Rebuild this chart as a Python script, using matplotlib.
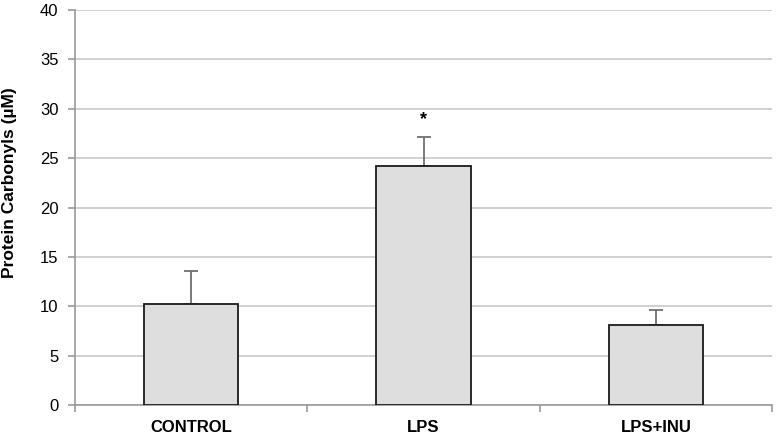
import matplotlib
matplotlib.use("Agg")
import matplotlib.pyplot as plt

categories = ["CONTROL", "LPS", "LPS+INU"]
values = [10.2, 24.25, 8.15]
errors = [3.35, 2.85, 1.45]
sig_labels = ["", "*", ""]
yticks = [0, 5, 10, 15, 20, 25, 30, 35, 40]

plt.rcParams['font.family'] = ['Liberation Sans', 'DejaVu Sans']

fig = plt.figure(figsize=(7.77, 4.38), dpi=100)
ax = fig.add_axes([75/777, 1-405/438, (772-75)/777, (405-10)/438])

x = list(range(len(categories)))
ax.bar(x, values, width=0.405, color="#dedede", edgecolor="#1a1a1a", linewidth=1.3, zorder=3)
ax.errorbar(x, values, yerr=[[0]*len(errors), errors], fmt="none", ecolor="#707070",
            elinewidth=1.3, capsize=5, capthick=1.3, zorder=2)
for xi, v, e, s in zip(x, values, errors, sig_labels):
    if s:
        ax.text(xi, v + e + 0.9, s, ha="center", va="bottom", fontsize=13, fontweight="bold")

ax.set_xlim(-0.5, len(categories) - 0.5)
ax.set_ylim(0, 40)
ax.set_yticks(yticks)
ax.set_yticklabels([str(t) for t in yticks], fontsize=12)
ax.yaxis.grid(True, color="#c8c8c8", linewidth=1.2, zorder=0)
ax.set_axisbelow(True)

ax.set_xticks([i + 0.5 for i in range(-1, len(categories))], minor=False)
ax.set_xticklabels([])
ax.set_xticks(x, minor=True)
ax.set_xticklabels(categories, minor=True, fontsize=12, fontweight="bold")
ax.tick_params(axis="x", which="minor", length=0, pad=11)
ax.tick_params(axis="x", which="major", length=5, color="#999999", width=1.2)
ax.tick_params(axis="y", length=5, color="#999999", width=1.2, pad=7)

for side in ["top", "right"]:
    ax.spines[side].set_visible(False)
for side in ["left", "bottom"]:
    ax.spines[side].set_color("#999999")
    ax.spines[side].set_linewidth(1.2)

ax.set_ylabel("Protein Carbonyls (µM)", fontsize=12.5, fontweight="bold")
ax.yaxis.set_label_coords(-58/697, 0.563)

fig.savefig("out.png", dpi=100)
